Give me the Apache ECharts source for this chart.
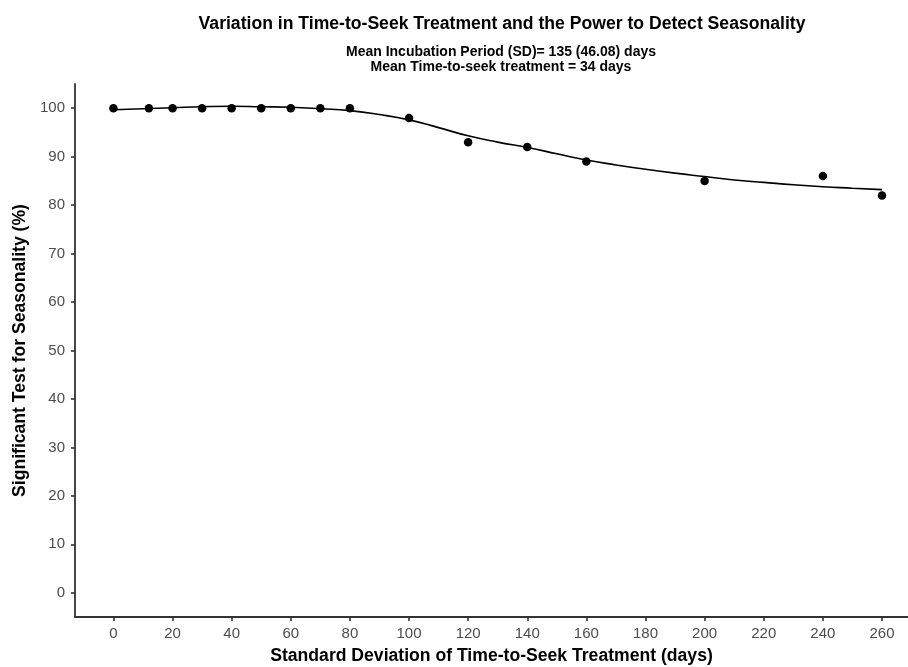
<!DOCTYPE html>
<html>
<head>
<meta charset="utf-8">
<script src="https://cdn.jsdelivr.net/npm/echarts@6/dist/echarts.min.js"></script>
<style>html,body{margin:0;padding:0;background:#fff}#c{width:908px;height:667px}</style>
</head>
<body>
<div id="c"></div>
<script>
const pointX = [0, 12, 20, 30, 40, 50, 60, 70, 80, 100, 120, 140, 160, 200, 240, 260];
const pointY = [100, 100, 100, 100, 100, 100, 100, 100, 100, 98, 93, 92, 89, 85, 86, 82];
const curveX = [0, 10, 20, 30, 40, 50, 60, 70, 80, 90, 100, 110, 120, 130, 140, 150, 160, 170, 180, 190, 200, 210, 220, 230, 240, 250, 260];
const curveY = [99.7, 99.9, 100.1, 100.3, 100.4, 100.3, 100.2, 99.9, 99.5, 98.7, 97.6, 96.0, 94.3, 93.0, 91.9, 90.6, 89.3, 88.3, 87.4, 86.6, 85.9, 85.2, 84.7, 84.2, 83.8, 83.5, 83.2];
const xTicks = [0, 20, 40, 60, 80, 100, 120, 140, 160, 180, 200, 220, 240, 260];
const yTicks = [0, 10, 20, 30, 40, 50, 60, 70, 80, 90, 100];

const chart = echarts.init(document.getElementById('c'));
const font = 'Liberation Sans, Arial, sans-serif';
chart.setOption({
  animation: false,
  backgroundColor: '#fff',
  textStyle: { fontFamily: font },
  title: [
    { text: 'Variation in Time-to-Seek Treatment and the Power to Detect Seasonality',
      left: 497, top: 10, textAlign: 'center',
      textStyle: { fontFamily: font, fontSize: 17.6, fontWeight: 'bold', color: '#000' } },
    { text: 'Mean Incubation Period (SD)= 135 (46.08) days\nMean Time-to-seek treatment = 34 days',
      left: 496, top: 39, textAlign: 'center',
      textStyle: { fontFamily: font, fontSize: 14, fontWeight: 'bold', color: '#000', lineHeight: 15.5 } }
  ],
  grid: { left: 75, right: 0, top: 84, bottom: 50, outerBoundsMode: 'none', containLabel: false },
  xAxis: {
    type: 'value', min: -13, max: 268.8,
    name: 'Standard Deviation of Time-to-Seek Treatment (days)',
    nameLocation: 'middle', nameGap: 30,
    nameTextStyle: { fontFamily: font, fontSize: 17.6, fontWeight: 'bold', color: '#000' },
    splitLine: { show: false },
    axisLine: { onZero: false, lineStyle: { color: '#333', width: 1.8 } },
    axisTick: { customValues: xTicks, length: 4, lineStyle: { color: '#333', width: 1.6 } },
    axisLabel: { customValues: xTicks, color: '#4d4d4d', fontSize: 15, margin: 9, fontFamily: font }
  },
  yAxis: {
    type: 'value', min: -5, max: 105,
    name: 'Significant Test for Seasonality (%)',
    nameLocation: 'middle', nameGap: 45,
    nameTextStyle: { fontFamily: font, fontSize: 17.6, fontWeight: 'bold', color: '#000' },
    splitLine: { show: false },
    axisLine: { show: true, onZero: false, lineStyle: { color: '#333', width: 1.8 } },
    axisTick: { show: true, customValues: yTicks, length: 4, lineStyle: { color: '#333', width: 1.6 } },
    axisLabel: { customValues: yTicks, color: '#4d4d4d', fontSize: 15, margin: 10, fontFamily: font }
  },
  series: [
    { type: 'line', data: curveX.map((x, i) => [x, curveY[i]]), smooth: true, showSymbol: false,
      lineStyle: { color: '#000', width: 1.6 }, z: 2 },
    { type: 'scatter', data: pointX.map((x, i) => [x, pointY[i]]), symbolSize: 8.5,
      itemStyle: { color: '#000', opacity: 1 }, z: 3 }
  ]
});
</script>
</body>
</html>
